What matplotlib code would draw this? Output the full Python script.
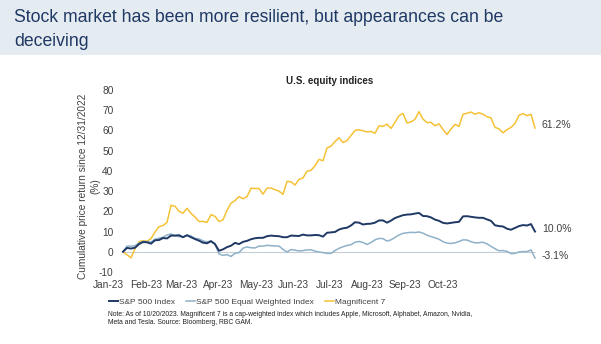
import matplotlib
matplotlib.use("Agg")
import matplotlib.pyplot as plt
from matplotlib.patches import Rectangle

plt.rcParams['font.family'] = ['Liberation Sans', 'DejaVu Sans']
plt.rcParams['axes.unicode_minus'] = False

# cumulative price return since 12/31/2022 (%), sampled roughly every 2 trading days
sp500 = [0, 1.9, 1.6, 2, 3.8, 4.8, 4.7, 4, 5.7, 5.8,
         6.8, 6.6, 8, 8, 8.2, 7.2, 8.2, 7.2, 6.3, 5.5,
         4.5, 4.2, 5.2, 3.8, 0.5, 1.2, 2.3, 3, 4.4, 3.8,
         4.9, 5.4, 6.2, 6.7, 6.9, 6.9, 7.7, 8, 7.8, 7.7,
         7.2, 7.2, 8, 7.9, 7.8, 8.5, 8.1, 8.1, 8.3, 8.2,
         7.5, 9.4, 9.6, 9.8, 11, 11.6, 11.9, 13, 14.6, 14.4,
         13.5, 13.8, 13.9, 14.4, 15.5, 15.5, 14.4, 15.4, 16.7, 17.4,
         18.1, 18.4, 18.5, 18.9, 19.2, 17.7, 17.6, 17, 15.9, 15.3,
         14.3, 14, 14.3, 14.6, 14.8, 17.5, 17.6, 17.3, 17, 16.8,
         16.8, 16, 15.3, 13.1, 12.7, 12.5, 11.4, 10.9, 11.8, 12.7,
         13.2, 13, 13.7, 10.0]

sp500_ew = [0, 2.8, 2.8, 3, 4.3, 5.1, 5, 4.8, 6.2, 6.7,
            7.2, 8.3, 8.8, 8, 7.5, 7.3, 8.2, 7.8, 6.6, 6.4,
            5.4, 4.9, 5.4, 3.8, -1, -1.8, -1.4, -2.3, -0.8, -0.4,
            1.8, 2.4, 2, 1.9, 2.8, 2.8, 3.2, 3, 2.9, 2.8,
            1.2, -0.1, 1.1, 0.8, 0.4, 0.6, 0.9, 1, 0.3, -0.1,
            -0.4, -0.8, -0.8, 0.6, 1.7, 2.5, 3.1, 3.5, 4.7, 5.1,
            4.6, 3.6, 4.6, 5.9, 6.6, 6.5, 5.3, 5.9, 7.1, 8.3,
            9.1, 9.4, 9.6, 9.5, 9.8, 9.2, 8.2, 7.5, 6.9, 6.2,
            5, 4.3, 4.1, 4.4, 5.1, 5.9, 5.8, 5, 4.4, 4.5,
            4.7, 3.9, 2.7, 1.5, 0.5, 0.6, 0.2, -0.9, -0.8, -0.1,
            0.1, 0.1, 0.9, -3.1]

mag7 = [0, -1.5, -3, 1.5, 5, 5.5, 5.2, 6.5, 9.8, 12.4,
        13, 14.5, 23, 22.5, 20, 19.1, 21.5, 19, 17.2, 15,
        15, 14.5, 18.4, 17.5, 15, 15.8, 20.5, 24, 25.3, 27.3,
        26.2, 27.2, 31.4, 31.3, 31.3, 28.5, 31.5, 31.5, 30.7, 30,
        28.4, 34.8, 34.6, 33, 35.8, 36.5, 39.8, 40.3, 42.5, 45.7,
        45, 51.4, 52.2, 54.5, 56.4, 54, 55, 57.5, 60, 60.3,
        59.8, 59.3, 59.5, 58.6, 62.3, 62, 63.1, 61, 64, 67.3,
        68.4, 63.7, 64.2, 65.5, 69.3, 65.6, 63.9, 64, 62.3, 63.3,
        60.5, 58, 60.7, 63, 62, 68, 68.5, 69.1, 68, 68.8,
        68, 66.8, 66.2, 61.5, 60.8, 58.8, 60.4, 61.5, 63.5, 67.5,
        68.3, 67.3, 68, 61.2]

months = ['Jan-23', 'Feb-23', 'Mar-23', 'Apr-23', 'May-23', 'Jun-23',
          'Jul-23', 'Aug-23', 'Sep-23', 'Oct-23']
month_pos = [-3.75, 5.75, 14.5, 23.75, 33.25, 42.5, 51.75, 61, 70.5, 80]

navy = '#1F3864'
light = '#8FB1C9'
gold = '#F5C235'
txt = '#404040'

fig = plt.figure(figsize=(6.01, 3.44), dpi=100)
W, H = 601, 344

# header band
fig.patches.append(Rectangle((0, 1 - 55 / H), 1, 55 / H, transform=fig.transFigure,
                             facecolor='#E5ECF1', edgecolor='none', zorder=0))
fig.text(14 / W, 1 - 29.5 / H, "Stock market has been more resilient, but appearances can be\ndeceiving",
         fontsize=12.7, color='#1F3864', va='center', ha='left', linespacing=1.5)

ax = fig.add_axes([119 / W, 1 - 272 / H, (540 - 119) / W, (272 - 90) / H])
x = list(range(len(sp500)))
ax.hlines(0, 0, len(sp500) - 1, color='#C5CCD3', lw=0.8, zorder=1)
ax.plot(x, mag7, color=gold, lw=1.1, zorder=2)
ax.plot(x, sp500_ew, color=light, lw=1.1, zorder=3)
ax.plot(x, sp500, color=navy, lw=1.4, zorder=4)

ax.set_xlim(-1, -1 + 421 / 4)
ax.set_ylim(-10, 80)
ax.set_yticks(range(-10, 81, 10))
ax.tick_params(axis='y', length=0, pad=4, labelsize=7.3, labelcolor=txt)
ax.set_xticks([])
for s in ax.spines.values():
    s.set_visible(False)

for m, p in zip(months, month_pos):
    ax.text(p, -0.07, m, transform=ax.get_xaxis_transform(), ha='center', va='center',
            fontsize=7.3, color=txt, clip_on=False)

# end labels
for series, yoff in [(mag7, 2.5), (sp500, 1.5), (sp500_ew, 1.2)]:
    ax.annotate(f"{series[-1]:.1f}%", (len(series) - 1, series[-1]), xytext=(5, yoff),
                textcoords='offset points', va='center', ha='left', fontsize=7.5, color=txt)

ax.set_title("U.S. equity indices", fontsize=7, fontweight='bold', color='#222222', pad=4)

# y axis title, two lines placed separately
fig.text(83 / W, 1 - 186 / H, "Cumulative price return since 12/31/2022", rotation=90,
         ha='center', va='center', fontsize=7.3, color=txt)
fig.text(95 / W, 1 - 186 / H, "(%)", rotation=90, ha='center', va='center', fontsize=7.3, color=txt)

leg = fig.legend(handles=ax.lines[::-1], labels=['S&P 500 Index', 'S&P 500 Equal Weighted Index', 'Magnificent 7'],
                 loc='center left', bbox_to_anchor=(101 / W, 1 - 302 / H), ncol=3, frameon=False,
                 fontsize=6.0, handlelength=1.1, handletextpad=0.15, columnspacing=1.3, labelcolor=txt)

fig.text(108 / W, 1 - 318.5 / H,
         "Note: As of 10/20/2023. Magnificent 7 is a cap-weighted index which includes Apple, Microsoft, Alphabet, Amazon, Nvidia,\nMeta and Tesla. Source: Bloomberg, RBC GAM.",
         fontsize=4.9, color='#222222', va='center', ha='left', linespacing=1.25)

fig.savefig('out.png', dpi=100)
